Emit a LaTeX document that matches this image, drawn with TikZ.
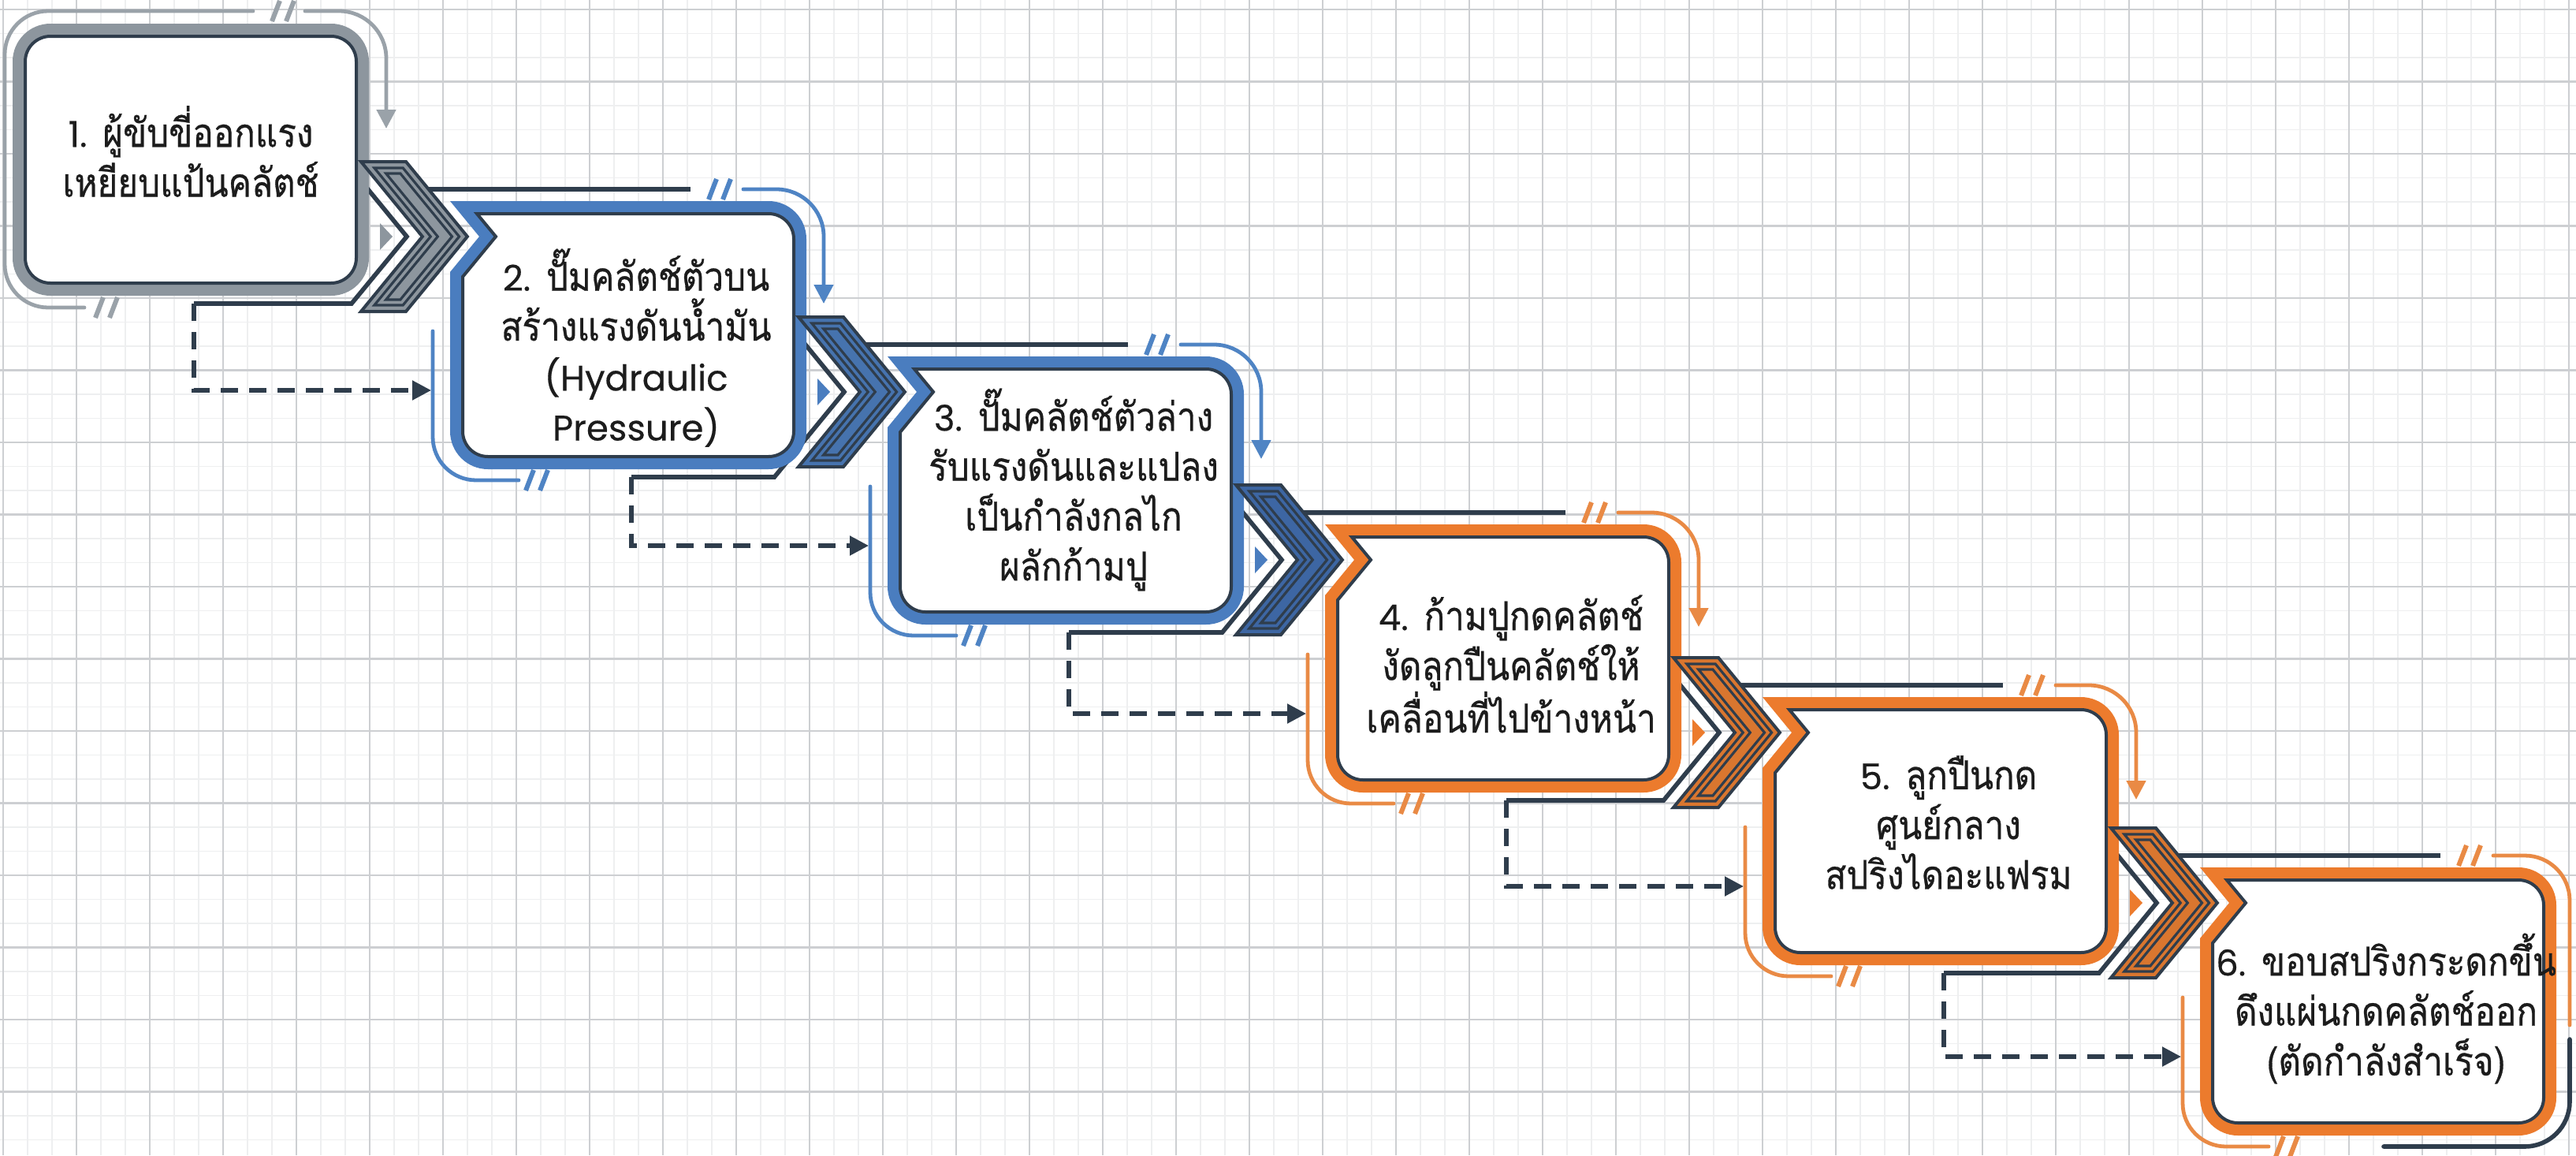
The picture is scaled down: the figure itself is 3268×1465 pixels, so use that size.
\documentclass[tikz,border=0pt]{standalone}
\usepackage{fontspec}
\newfontfamily\thai[Script=Thai,FakeStretch=0.87,FakeBold=0.6]{Loma}
\newfontfamily\lat[Scale=0.89,FakeBold=0.4]{Poppins}
\usetikzlibrary{arrows.meta}
\definecolor{dk}{HTML}{2F3D4C}
\definecolor{gband}{HTML}{8D969E}
\definecolor{gline}{HTML}{9AA2A9}
\definecolor{bband}{HTML}{4A7DBF}
\definecolor{bline}{HTML}{4F84C4}
\definecolor{bchev}{HTML}{4673AE}
\definecolor{bchevd}{HTML}{3D66A3}
\definecolor{oband}{HTML}{EC7B2D}
\definecolor{oline}{HTML}{E98A45}
\definecolor{ochev}{HTML}{D9762F}
\definecolor{gmaj}{HTML}{CDCFD2}
\definecolor{gmin}{HTML}{EEEFF0}
\definecolor{txt}{HTML}{1C1C1C}

% "//" mark centred at (#1,#2)
\newcommand\slashes[3]{%
  \draw[#3, line width=1.5mm] ({#1-14},{#2+13}) -- ({#1-4},{#2-13}) ({#1+4},{#2+13}) -- ({#1+14},{#2-13});}
% chevron polygon: x, top y, width, height, style
\newcommand\chevpoly[5]{%
  \path[#5] ({#1},{#2}) -- ({(#1)+(#3)},{#2}) -- ({(#1)+(#3)+(#4)/2*0.82},{(#2)+(#4)/2}) -- ({(#1)+(#3)},{(#2)+(#4)}) -- ({#1},{(#2)+(#4)}) -- ({(#1)+(#4)/2*0.82},{(#2)+(#4)/2}) -- cycle;}
\newcommand\chevshape[3]{% cx, mid y, fill
  \chevpoly{#1}{(#2)-95}{57}{190}{fill=#3,draw=dk,line width=1mm}
  \chevpoly{(#1)+8*2.113}{(#2)-95+8}{57-8*2.586}{174}{draw=dk,line width=0.8mm}
  \chevpoly{(#1)+15*2.113}{(#2)-95+15}{57-15*2.586}{160}{draw=dk,line width=0.8mm}}
\newcommand\plainframe[5]{% L T R B colour
  \fill[#5] ({#1+48},#2) -- ({#3-48},#2) arc[start angle=-90,end angle=0,radius=48] -- (#3,{#4-48}) arc[start angle=0,end angle=90,radius=48] -- ({#1+48},#4) arc[start angle=90,end angle=180,radius=48] -- (#1,{#2+48}) arc[start angle=180,end angle=270,radius=48] -- cycle;
  \filldraw[fill=white,draw=dk,line width=1mm] ({#1+48},{#2+16}) -- ({#3-48},{#2+16}) arc[start angle=-90,end angle=0,radius=32] -- ({#3-16},{#4-48}) arc[start angle=0,end angle=90,radius=32] -- ({#1+48},{#4-16}) arc[start angle=90,end angle=180,radius=32] -- ({#1+16},{#2+48}) arc[start angle=180,end angle=270,radius=32] -- cycle;}
\newcommand\notchframe[5]{% L T R B colour
  \fill[#5] (#1,#2) -- ({#3-48},#2) arc[start angle=-90,end angle=0,radius=48] -- (#3,{#4-48}) arc[start angle=0,end angle=90,radius=48] -- ({#1+48},#4) arc[start angle=90,end angle=180,radius=48] -- (#1,{#2+90}) -- ({#1+37},{#2+45}) -- cycle;
  \filldraw[fill=white,draw=dk,line width=1mm] ({#1+34},{#2+16}) -- ({#3-48},{#2+16}) arc[start angle=-90,end angle=0,radius=32] -- ({#3-16},{#4-48}) arc[start angle=0,end angle=90,radius=32] -- ({#1+48},{#4-16}) arc[start angle=90,end angle=180,radius=32] -- ({#1+16},{#2+96}) -- ({#1+58},{#2+45}) -- cycle;}

\begin{document}
\begin{tikzpicture}[x=0.25mm,y=-0.25mm,
  decoln/.style={line width=1.2mm, line cap=round},
  darkln/.style={draw=dk, line width=1.4mm},
  dashln/.style={draw=dk, line width=1.3mm, dash pattern=on 5.5mm off 3.5mm},
  arrowhd/.style={-{Triangle[length=6mm,width=6mm]}},
  gminln/.style={draw=gmin, line width=0.4mm},
  gmajln/.style={draw=gmaj, line width=0.55mm},
  boxtxt/.style={font=\thai\fontsize{36}{45}\selectfont, text=txt, align=center, inner sep=0pt},
]
\useasboundingbox (0,0) rectangle (3268,1465);
\fill[white] (0,0) rectangle (3268,1465);
% grid
\foreach \i in {0,...,105} { \draw[gminln] ({4+31*\i},0) -- ({4+31*\i},1465); }
\foreach \i in {0,...,47} { \draw[gminln] (0,{12+30.5*\i}) -- (3268,{12+30.5*\i}); }
\foreach \i in {0,...,35} { \draw[gmajln] ({4+93*\i},0) -- ({4+93*\i},1465); }
\foreach \i in {0,...,15} { \draw[gmajln] (0,{12+91.5*\i}) -- (3268,{12+91.5*\i}); }

% ---------- decorative lines ----------
% box 1
\draw[decoln, gline] (107,390) -- (61,390) arc[start angle=90,end angle=180,radius=55] -- (6,69) arc[start angle=180,end angle=270,radius=55] -- (321,14);
\slashes{359}{14}{gline}
\draw[decoln, gline, arrowhd] (387,14) -- (430,14) arc[start angle=-90,end angle=0,radius=60] -- (490,163);
\slashes{135}{390}{gline}
% box 2
\draw[darkln] (544,240) -- (876,240);
\slashes{913}{240}{bline}
\draw[decoln, bline, arrowhd] (943,240) -- (985,240) arc[start angle=-90,end angle=0,radius=60] -- (1045,385);
\draw[decoln, bline] (549,420) -- (549,554) arc[start angle=180,end angle=90,radius=55] -- (658,609);
\slashes{681}{609}{bline}
% box 3
\draw[darkln] (1099,437) -- (1431,437);
\slashes{1468}{437}{bline}
\draw[decoln, bline, arrowhd] (1498,437) -- (1540,437) arc[start angle=-90,end angle=0,radius=60] -- (1600,582);
\draw[decoln, bline] (1104,617) -- (1104,751) arc[start angle=180,end angle=90,radius=55] -- (1213,806);
\slashes{1236}{806}{bline}
% box 4
\draw[darkln] (1654,650) -- (1986,650);
\slashes{2023}{650}{oline}
\draw[decoln, oline, arrowhd] (2053,650) -- (2095,650) arc[start angle=-90,end angle=0,radius=60] -- (2155,795);
\draw[decoln, oline] (1659,830) -- (1659,964) arc[start angle=180,end angle=90,radius=55] -- (1768,1019);
\slashes{1791}{1019}{oline}
% box 5
\draw[darkln] (2209,869) -- (2541,869);
\slashes{2578}{869}{oline}
\draw[decoln, oline, arrowhd] (2608,869) -- (2650,869) arc[start angle=-90,end angle=0,radius=60] -- (2710,1014);
\draw[decoln, oline] (2214,1049) -- (2214,1183) arc[start angle=180,end angle=90,radius=55] -- (2323,1238);
\slashes{2346}{1238}{oline}
% box 6
\draw[darkln] (2764,1085) -- (3096,1085);
\slashes{3133}{1085}{oline}
\draw[decoln, oline] (3163,1085) -- (3203,1085) arc[start angle=-90,end angle=0,radius=57] -- (3260,1300);
\draw[decoln, oline] (2769,1265) -- (2769,1399) arc[start angle=180,end angle=90,radius=55] -- (2878,1454);
\slashes{2901}{1454}{oline}
\draw[darkln, line cap=round] (3024,1454) -- (3203,1454) arc[start angle=90,end angle=0,radius=57] -- (3260,1318);

% ---------- links (open chevron, dark line, dashed connector) ----------
\coordinate (d1) at (246,385);  \coordinate (e1) at (547,495);
\coordinate (d2) at (801,605);  \coordinate (e2) at (1102,692);
\coordinate (d3) at (1356,802); \coordinate (e3) at (1657,905);
\coordinate (d4) at (1911,1015);\coordinate (e4) at (2212,1124);
\coordinate (d5) at (2466,1234);\coordinate (e5) at (2767,1340);
\draw[darkln] (463.5,236) -- (516,300) -- (446,385) -- (d1);
\draw[darkln] (1018.5,433) -- (1071,497) -- (982.4,605) -- (d2);
\draw[darkln] (1573.5,646) -- (1626,710) -- (1550.6,802) -- (d3);
\draw[darkln] (2128.5,865) -- (2181,929) -- (2110.5,1015) -- (d4);
\draw[darkln] (2683.5,1081) -- (2736,1145) -- (2663,1234) -- (d5);
\draw[dashln, arrowhd] (d1) |- (e1);
\draw[dashln, arrowhd] (d2) |- (e2);
\draw[dashln, arrowhd] (d3) |- (e3);
\draw[dashln, arrowhd] (d4) |- (e4);
\draw[dashln, arrowhd] (d5) |- (e5);

% ---------- frames ----------
\plainframe{16}{30}{468}{375}{gband}
\notchframe{571}{255}{1023}{595}{bband}
\notchframe{1126}{452}{1578}{792}{bband}
\notchframe{1681}{665}{2133}{1005}{oband}
\notchframe{2236}{884}{2688}{1224}{oband}
\notchframe{2791}{1100}{3243}{1440}{oband}

% ---------- chevrons and small triangles ----------
\chevshape{458}{300}{gband}
\chevshape{1013}{497}{bchev}
\chevshape{1568}{710}{bchevd}
\chevshape{2123}{929}{ochev}
\chevshape{2678}{1145}{ochev}
\fill[gband] (482,283) -- (498,300) -- (482,317) -- cycle;
\fill[bband] (1037,480) -- (1053,497) -- (1037,514) -- cycle;
\fill[bband] (1592,693) -- (1608,710) -- (1592,727) -- cycle;
\fill[oband] (2147,912) -- (2163,929) -- (2147,946) -- cycle;
\fill[oband] (2702,1128) -- (2718,1145) -- (2702,1162) -- cycle;

% ---------- texts ----------
\node[boxtxt] (t1) at (242,192) {{\lat 1.} ผู้ขับขี่ออกแรง\\เหยียบแป้นคลัตช์};
\node[boxtxt] (t2) at (807,441) {{\lat 2.} ปั๊มคลัตช์ตัวบน\\สร้างแรงดันน้ำมัน\\{\lat (Hydraulic}\\{\lat Pressure)}};
\node[boxtxt] (t3) at (1362,621) {{\lat 3.} ปั๊มคลัตช์ตัวล่าง\\รับแรงดันและแปลง\\เป็นกำลังกลไก\\ผลักก้ามปู};
\node[boxtxt] (t4) at (1917,842) {{\lat 4.} ก้ามปูกดคลัตช์\\งัดลูกปืนคลัตช์ให้\\เคลื่อนที่ไปข้างหน้า};
\node[boxtxt] (t5) at (2472,1043) {{\lat 5.} ลูกปืนกด\\ศูนย์กลาง\\สปริงไดอะแฟรม};
\node[boxtxt] (t6) at (3027,1279) {{\lat 6.} ขอบสปริงกระดกขึ้น\\ดึงแผ่นกดคลัตช์ออก\\(ตัดกำลังสำเร็จ)};
\end{tikzpicture}
\end{document}
